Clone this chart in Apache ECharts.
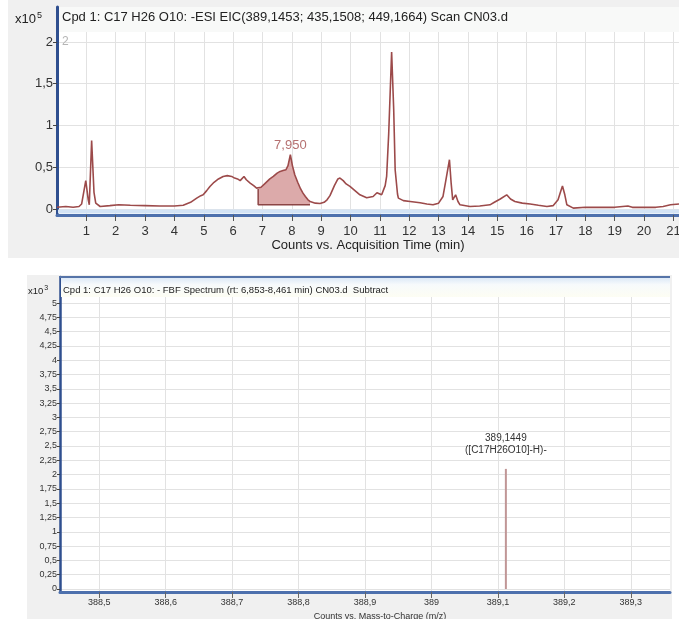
<!DOCTYPE html>
<html>
<head>
<meta charset="utf-8">
<script src="https://cdn.jsdelivr.net/npm/echarts@6.0.0/dist/echarts.min.js"></script>
<style>
html,body{margin:0;padding:0;background:#fff;}
#c{width:679px;height:619px;}
</style>
</head>
<body>
<div id="c"></div>
<script>
// ---------- Chromatogram (x10^5 counts vs time, min) ----------
const chromTime = [0.0,0.3,0.55,0.75,0.84,0.98,1.06,1.10,1.18,1.26,1.32,1.47,1.8,2.1,2.5,3.0,3.5,4.0,4.3,4.55,4.76,4.9,4.98,5.1,5.21,5.35,5.5,5.66,5.8,5.95,6.05,6.15,6.24,6.30,6.37,6.45,6.58,6.7,6.8,6.853,6.95,7.1,7.25,7.37,7.5,7.6,7.7,7.8,7.87,7.95,8.02,8.1,8.2,8.3,8.38,8.461,8.55,8.62,8.8,8.96,9.1,9.2,9.3,9.45,9.57,9.64,9.75,9.85,9.98,10.15,10.32,10.55,10.77,10.9,11.06,11.18,11.23,11.3,11.4,11.47,11.52,11.6,11.63,11.8,12.03,12.37,12.6,12.81,13.0,13.15,13.25,13.37,13.43,13.48,13.58,13.66,13.73,14.07,14.4,14.75,14.9,15.1,15.32,15.45,15.6,15.85,16.12,16.4,16.69,16.9,17.07,17.15,17.22,17.3,17.37,17.59,18.0,18.5,19.0,19.45,19.6,20.0,20.4,20.65,20.9,21.19];
const chromIntensity = [0.02,0.03,0.02,0.03,0.06,0.34,0.12,0.05,0.82,0.2,0.07,0.03,0.04,0.05,0.045,0.04,0.035,0.035,0.045,0.08,0.13,0.16,0.17,0.22,0.27,0.32,0.36,0.39,0.40,0.39,0.37,0.36,0.34,0.36,0.39,0.35,0.31,0.28,0.25,0.24,0.26,0.31,0.36,0.39,0.43,0.45,0.46,0.47,0.52,0.65,0.52,0.41,0.32,0.24,0.19,0.15,0.11,0.09,0.07,0.065,0.08,0.11,0.16,0.28,0.36,0.37,0.34,0.30,0.27,0.22,0.17,0.135,0.15,0.195,0.17,0.28,0.39,0.9,1.88,1.2,0.47,0.18,0.13,0.1,0.09,0.075,0.06,0.05,0.07,0.15,0.35,0.59,0.3,0.11,0.17,0.09,0.05,0.03,0.035,0.05,0.08,0.12,0.17,0.12,0.09,0.07,0.06,0.045,0.03,0.04,0.11,0.2,0.275,0.17,0.05,0.01,0.02,0.02,0.02,0.035,0.02,0.02,0.02,0.03,0.05,0.06];
const integStart = 6.853, integEnd = 8.62, integBase = 0.05;
const chromYTicks = [0, 0.5, 1, 1.5, 2];
const chromTitle = 'Cpd 1: C17 H26 O10: -ESI EIC(389,1453; 435,1508; 449,1664) Scan CN03.d';
const chromXName = 'Counts vs. Acquisition Time (min)';

// ---------- Spectrum (x10^3 counts vs m/z) ----------
const specMz = [389.112];
const specIntensity = [2.1];
const specLabel = ['389,1449', '([C17H26O10]-H)-'];
const specXTicks = [388.5, 388.6, 388.7, 388.8, 388.9, 389.0, 389.1, 389.2, 389.3];
const specYTicks = [0,0.25,0.5,0.75,1,1.25,1.5,1.75,2,2.25,2.5,2.75,3,3.25,3.5,3.75,4,4.25,4.5,4.75,5];
const specTitle = 'Cpd 1: C17 H26 O10: - FBF Spectrum (rt: 6,853-8,461 min) CN03.d  Subtract';
const specXName = 'Counts vs. Mass-to-Charge (m/z)';

const FONT = 'Liberation Sans';
const comma = v => String(+(+v).toFixed(3)).replace('.', ',');

const chromData = chromTime.map((t, i) => [t, chromIntensity[i]]);
const areaData = chromData.filter(d => d[0] >= integStart && d[0] <= integEnd);
let peak = areaData[0];
areaData.forEach(d => { if (d[1] > peak[1]) peak = d; });
const baselineData = [[integStart, areaData[0][1]], [integStart, integBase], [integEnd, integBase]];
const specData = specMz.map((m, i) => [m, specIntensity[i]]);

const chart = echarts.init(document.getElementById('c'), null, {renderer: 'canvas'});
const gridColor = '#e2e2e2';

chart.setOption({
  animation: false,
  backgroundColor: '#ffffff',
  textStyle: {fontFamily: FONT},
  graphic: [
    {type: 'rect', z: -10, shape: {x: 8, y: 0, width: 671, height: 258}, style: {fill: '#f0f0f0'}},
    {type: 'rect', z: -10, shape: {x: 27, y: 275, width: 645, height: 344}, style: {fill: '#f0f0f0'}},
    {type: 'rect', z: 50, shape: {x: 59, y: 7, width: 620, height: 25}, style: {fill: '#f8f9f8'}},
    {type: 'text', z: 51, x: 62, y: 11, style: {text: chromTitle, font: '13px "Liberation Sans"', fill: '#222'}},
    {type: 'text', z: 51, x: 15, y: 11, style: {text: '{a|x10}{b|5}', rich: {a: {fontSize: 13, fontFamily: FONT, fill: '#222'}, b: {fontSize: 9, fontFamily: FONT, fill: '#222', verticalAlign: 'top', padding: [0, 0, 8, 1]}}}},
    {type: 'text', z: 51, x: 62, y: 36, style: {text: '2', font: '12px "Liberation Sans"', fill: '#b5b5b5'}},
    {type: 'rect', z: 50, shape: {x: 58, y: 209.5, width: 621, height: 4}, style: {fill: '#d3e3f5'}},
    {type: 'rect', z: 50, shape: {x: 61, y: 278, width: 609, height: 19}, style: {fill: new echarts.graphic.LinearGradient(0, 0, 0, 1, [{offset: 0, color: '#dde9f7'}, {offset: 0.35, color: '#f7fafc'}, {offset: 1, color: '#fdfdf3'}])}},
    {type: 'rect', z: 51, shape: {x: 59, y: 276, width: 611, height: 2}, style: {fill: '#5674a8'}},
    {type: 'text', z: 52, x: 63, y: 285, style: {text: specTitle, font: '9.5px "Liberation Sans"', fill: '#222'}},
    {type: 'text', z: 52, x: 28, y: 285, style: {text: '{a|x10}{b|3}', rich: {a: {fontSize: 9.5, fontFamily: FONT, fill: '#222'}, b: {fontSize: 7, fontFamily: FONT, fill: '#222', verticalAlign: 'top', padding: [0, 0, 6, 1]}}}}
  ],
  grid: [
    {left: 57, top: 7, width: 622, height: 208, show: true, backgroundColor: '#ffffff', borderWidth: 0, outerBoundsMode: 'none', containLabel: false},
    {left: 60, top: 277, width: 610, height: 315, show: true, backgroundColor: '#ffffff', borderWidth: 0, outerBoundsMode: 'none', containLabel: false}
  ],
  xAxis: [
    {
      gridIndex: 0, type: 'value', min: 0, max: 21.19, interval: 1,
      name: chromXName, nameLocation: 'middle', nameGap: 23,
      nameTextStyle: {fontSize: 13, color: '#222', fontFamily: FONT},
      axisLine: {onZero: false, lineStyle: {color: '#4d70ad', width: 3}},
      axisTick: {show: true, length: 6, lineStyle: {color: '#555', width: 1}},
      axisLabel: {fontSize: 13, color: '#333', margin: 10, fontFamily: FONT, showMinLabel: false, hideOverlap: false,
        formatter: v => (v === 0 ? '' : comma(v))},
      splitLine: {show: true, lineStyle: {color: gridColor, width: 1}}
    },
    {
      gridIndex: 1, type: 'value', min: 388.441, max: 389.359,
      name: specXName, nameLocation: 'middle', nameGap: 17,
      nameTextStyle: {fontSize: 9, color: '#333', fontFamily: FONT, padding: [0, 0, 0, 30]},
      axisLine: {onZero: false, lineStyle: {color: '#4d70ad', width: 3}},
      axisTick: {show: true, length: 6, customValues: specXTicks, lineStyle: {color: '#666'}},
      axisLabel: {fontSize: 9, color: '#333', margin: 6, fontFamily: FONT, customValues: specXTicks,
        formatter: v => comma(v)},
      splitLine: {show: true, lineStyle: {color: gridColor, width: 1}}
    }
  ],
  yAxis: [
    {
      gridIndex: 0, type: 'value', min: -0.0719, max: 2.419,
      axisLine: {show: true, onZero: false, lineStyle: {color: '#2f4f8f', width: 3}},
      axisTick: {show: true, length: 4, customValues: chromYTicks, lineStyle: {color: '#444'}},
      axisLabel: {fontSize: 13, color: '#333', margin: 4, fontFamily: FONT, customValues: chromYTicks,
        formatter: v => comma(v)},
      splitLine: {show: true, lineStyle: {color: gridColor, width: 1}}
    },
    {
      gridIndex: 1, type: 'value', min: -0.0524, max: 5.455,
      axisLine: {show: true, onZero: false, lineStyle: {color: '#2f4f8f', width: 2.5}},
      axisTick: {show: true, length: 3, customValues: specYTicks, lineStyle: {color: '#444'}},
      axisLabel: {fontSize: 9, color: '#333', margin: 3, fontFamily: FONT, customValues: specYTicks,
        formatter: v => comma(v)},
      splitLine: {show: true, lineStyle: {color: gridColor, width: 1}}
    }
  ],
  series: [
    {
      type: 'line', xAxisIndex: 0, yAxisIndex: 0, data: areaData, showSymbol: false, symbol: 'none',
      lineStyle: {width: 0}, areaStyle: {color: '#dcaaaa', opacity: 1, origin: integBase}, z: 2,
      markPoint: {
        symbol: 'circle', symbolSize: 0,
        data: [{coord: peak}],
        label: {show: true, position: 'top', distance: 3, color: '#b57070', fontSize: 13, fontFamily: FONT,
          formatter: () => peak[0].toFixed(3).replace('.', ',')}
      }
    },
    {
      type: 'line', xAxisIndex: 0, yAxisIndex: 0, data: baselineData, showSymbol: false, symbol: 'none',
      lineStyle: {color: '#8c4545', width: 1.5}, z: 3
    },
    {
      type: 'line', xAxisIndex: 0, yAxisIndex: 0, data: chromData, showSymbol: false, symbol: 'none',
      lineStyle: {color: '#9c4a4a', width: 1.6}, z: 4
    },
    {
      type: 'bar', xAxisIndex: 1, yAxisIndex: 1, data: specData, barWidth: 2,
      itemStyle: {color: '#c09696'},
      label: {show: true, position: 'top', distance: 13, color: '#333', fontSize: 10, fontFamily: FONT, lineHeight: 12,
        formatter: () => specLabel.join('\n')}
    }
  ]
});
</script>
</body>
</html>
